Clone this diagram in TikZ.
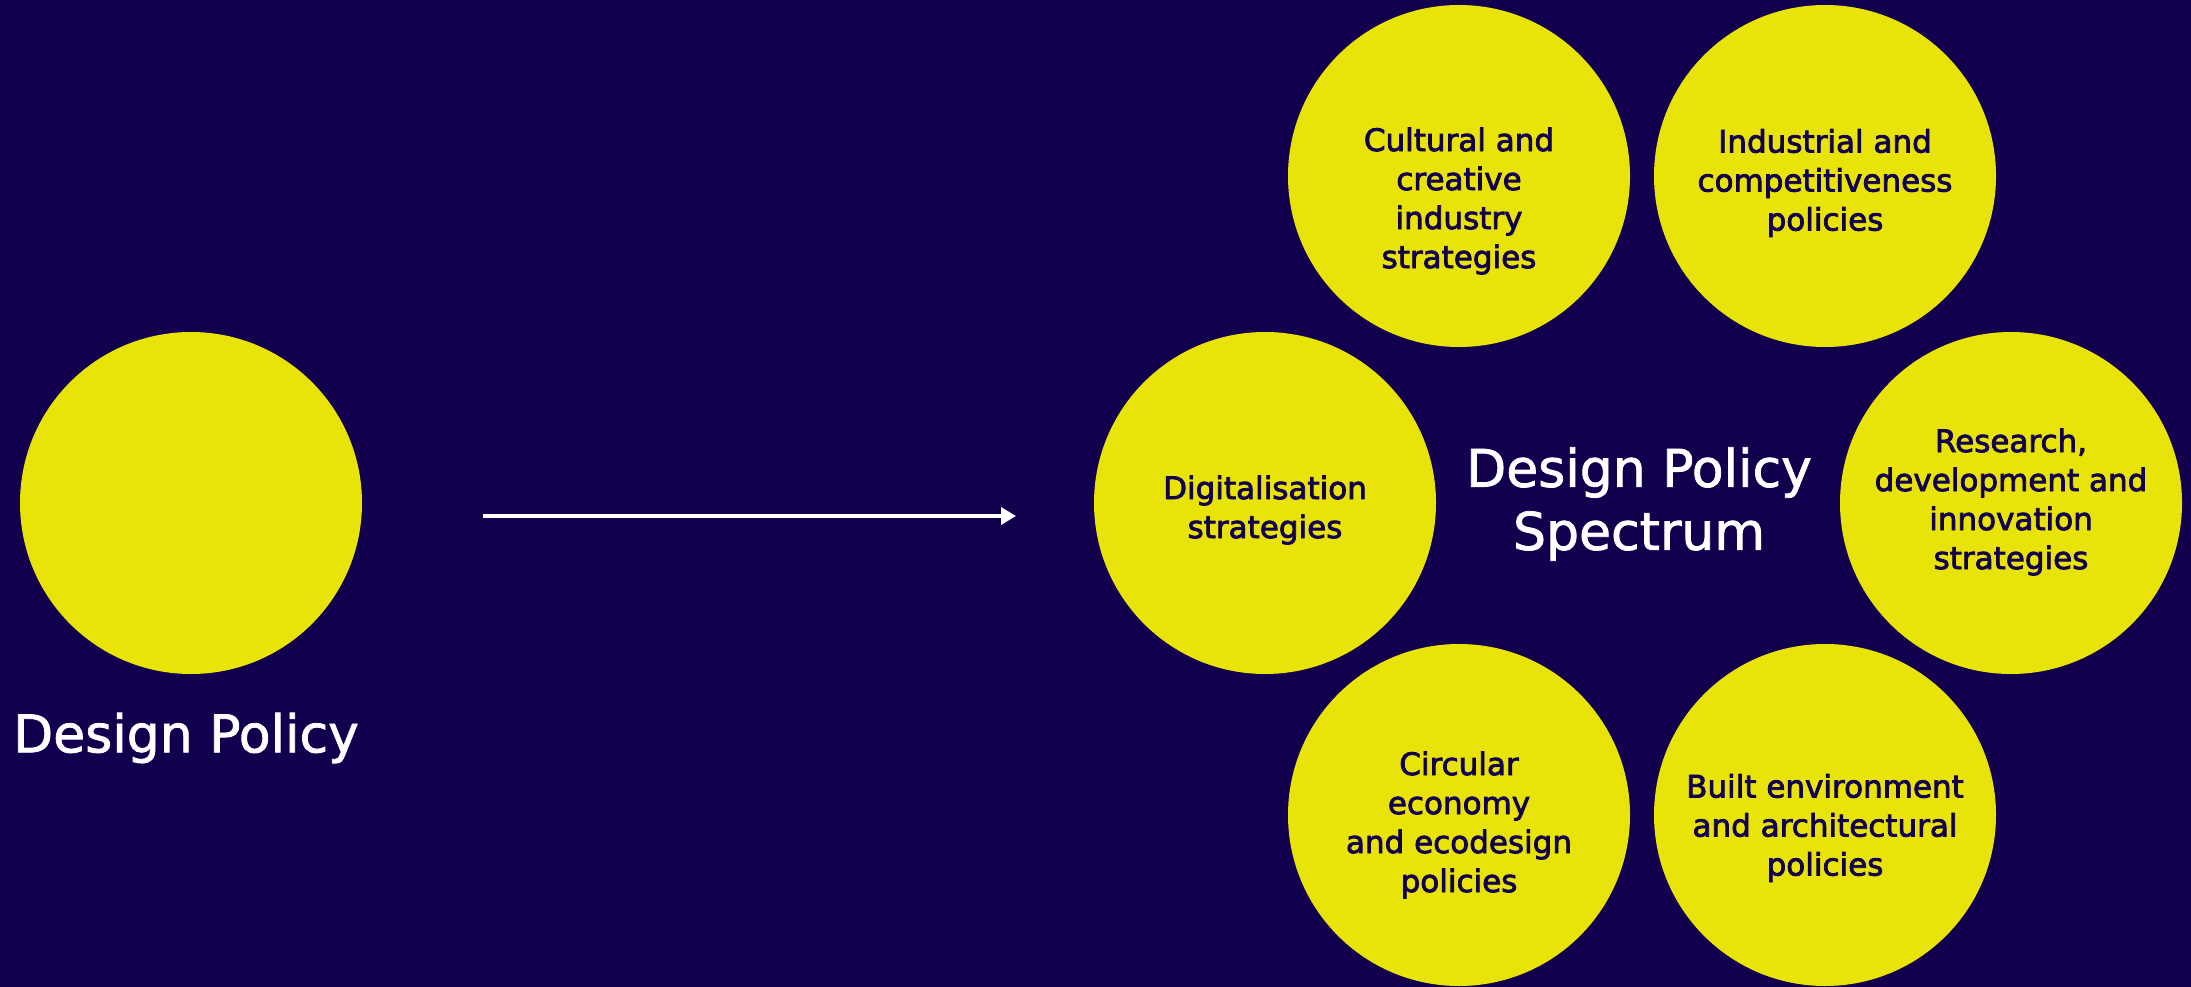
\documentclass[tikz,border=0pt]{standalone}
\usepackage{fontspec}
\setmainfont{DejaVu Sans}
\newfontfamily\smallfont[FakeBold=2.5]{DejaVu Sans}
\newfontfamily\bigfont[FakeBold=1.5]{DejaVu Sans}
\usetikzlibrary{arrows.meta}
\definecolor{navy}{RGB}{18,0,78}
\definecolor{lemon}{RGB}{232,228,10}
\tikzset{>={Triangle[length=15pt,width=17pt]}}
\tikzset{bubble/.style={circle,fill=lemon,minimum size=342pt,inner sep=0pt},
  bubbletext/.style={text=navy,align=center,font=\smallfont\fontsize{31}{39}\selectfont},
  bigtext/.style={text=white,align=center,font=\bigfont\fontsize{52}{63}\selectfont}}

\begin{document}
\begin{tikzpicture}[x=1pt,y=-1pt]
                \fill[navy] (0,0) rectangle (2191,987);
                \useasboundingbox (0,0) rectangle (2191,987);
               % single policy
                \node[bubble] (dp) at (191,503) {};
                \node[bigtext] (dplabel) at (186,738) {Design Policy};
                \coordinate (from) at (483,516);
                \coordinate (to) at (1016,516);
                \draw[->, white, line width=3.5pt] (from) -- (to);
               % spectrum
                \node[bubble] (cult) at (1459,176) {};
                \node[bubble] (indu) at (1825,176) {};
                \node[bubble] (digi) at (1265,503) {};
                \node[bubble] (rdi) at (2011,503) {};
                \node[bubble] (circ) at (1459,815) {};
                \node[bubble] (built) at (1825,815) {};
                \node[bigtext] (spectrum) at (1639,504) {Design Policy\\Spectrum};
                \node[bubbletext] (culttext) at (1459,201) {Cultural and\\creative\\industry\\strategies};
                \node[bubbletext] (indutext) at (1825,183) {Industrial and\\competitiveness\\policies};
                \node[bubbletext] (digitext) at (1265,510) {Digitalisation\\strategies};
                \node[bubbletext] (rditext) at (2011,502) {Research,\\development and\\innovation\\strategies};
                \node[bubbletext] (circtext) at (1459,825) {Circular\\economy\\and ecodesign\\policies};
                \node[bubbletext] (builttext) at (1825,828) {Built environment\\and architectural\\policies};
    \end{tikzpicture}
\end{document}
